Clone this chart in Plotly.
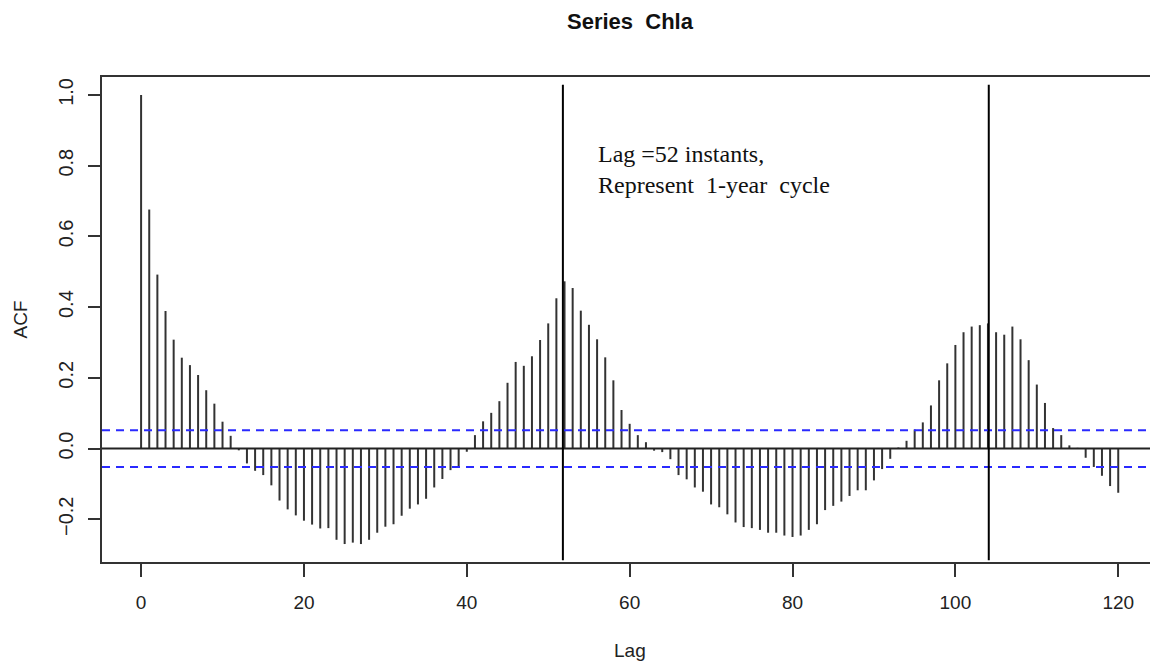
import plotly.graph_objects as go

# ---- data ----
lags = list(range(0, 121))
acf_values = [
    1.000, 0.676, 0.492, 0.389, 0.308, 0.257, 0.236, 0.208, 0.165, 0.127,
    0.076, 0.036, -0.005, -0.042, -0.063, -0.075, -0.104, -0.147, -0.172, -0.189,
    -0.204, -0.215, -0.226, -0.225, -0.258, -0.270, -0.266, -0.270, -0.258, -0.238,
    -0.221, -0.214, -0.190, -0.170, -0.158, -0.142, -0.110, -0.086, -0.061, -0.051,
    -0.009, 0.038, 0.077, 0.101, 0.134, 0.186, 0.245, 0.234, 0.261, 0.307,
    0.354, 0.425, 0.473, 0.454, 0.390, 0.350, 0.309, 0.258, 0.193, 0.109,
    0.070, 0.038, 0.018, -0.006, -0.010, -0.030, -0.075, -0.087, -0.110, -0.122,
    -0.158, -0.166, -0.186, -0.209, -0.222, -0.225, -0.230, -0.238, -0.238, -0.246,
    -0.250, -0.246, -0.230, -0.214, -0.174, -0.162, -0.150, -0.134, -0.118, -0.118,
    -0.090, -0.058, -0.029, 0.003, 0.022, 0.054, 0.074, 0.122, 0.193, 0.241,
    0.293, 0.329, 0.345, 0.349, 0.354, 0.329, 0.322, 0.345, 0.309, 0.250,
    0.181, 0.129, 0.058, 0.038, 0.009, 0.002, -0.026, -0.052, -0.077, -0.106,
    -0.125,
]
conf_limit = 0.052
cycle_lags = [51.8, 104.1]
x_ticks = [0, 20, 40, 60, 80, 100, 120]
y_ticks = [-0.2, 0.0, 0.2, 0.4, 0.6, 0.8, 1.0]
title_text = "Series\u00a0 Chla"
note_text = "Lag =52 instants,<br>Represent\u00a0 1-year\u00a0 cycle"

X_RANGE = [-4.8, 123.9]
Y_RANGE = [-0.3208, 1.0508]

# ---- build spikes ----
sx, sy = [], []
for l, v in zip(lags, acf_values):
    sx += [l, l, None]
    sy += [0, v, None]

fig = go.Figure()
fig.add_trace(go.Scatter(x=sx, y=sy, mode="lines",
                         line=dict(color="#333333", width=2),
                         hoverinfo="skip", showlegend=False))
# zero line
fig.add_trace(go.Scatter(x=X_RANGE, y=[0, 0], mode="lines",
                         line=dict(color="#222222", width=2),
                         hoverinfo="skip", showlegend=False))
# confidence bounds
for c in (conf_limit, -conf_limit):
    fig.add_trace(go.Scatter(x=X_RANGE, y=[c, c], mode="lines",
                             line=dict(color="#2a2aff", width=2, dash="8px,6px"),
                             hoverinfo="skip", showlegend=False))
# cycle markers
for cl in cycle_lags:
    fig.add_trace(go.Scatter(x=[cl, cl], y=[-0.316, 1.029], mode="lines",
                             line=dict(color="#000000", width=2),
                             hoverinfo="skip", showlegend=False))

fig.add_annotation(x=55.9, y=0.79, xref="x", yref="y", text=note_text,
                   showarrow=False, xanchor="left", yanchor="middle", align="left",
                   font=dict(family="Liberation Serif", size=24, color="#111111"))

fig.add_annotation(x=0, y=0.5, xref="paper", yref="paper", text="ACF",
                   showarrow=False, textangle=-90, xanchor="center", yanchor="middle",
                   xshift=-82, font=dict(family="Liberation Sans", size=19, color="#222222"))
fig.add_annotation(x=(630 - 102.4) / 1047.6, y=0, xref="paper", yref="paper", text="Lag",
                   showarrow=False, xanchor="center", yanchor="middle",
                   yshift=-88, font=dict(family="Liberation Sans", size=19, color="#222222"))

fig.update_layout(
    width=1150, height=661,
    margin=dict(l=102.4, r=0, t=77.2, b=99.1, pad=0),
    paper_bgcolor="white", plot_bgcolor="white",
    title=dict(text=title_text, x=630 / 1150, xanchor="center",
               y=1 - 21 / 661, yanchor="middle",
               font=dict(family="Liberation Sans", size=22, color="#111111", weight="bold")),
    font=dict(family="Liberation Sans", color="#222222"),
    xaxis=dict(range=X_RANGE, tickvals=x_ticks, ticks="outside", ticklen=13, tickwidth=2,
               tickcolor="#333333", showline=True, linecolor="#333333", linewidth=2,
               mirror=True, showgrid=False, zeroline=False,
               tickfont=dict(size=19, color="#222222"), ticklabelstandoff=9),
    yaxis=dict(range=Y_RANGE, tickvals=y_ticks, tickformat=".1f", ticks="outside",
               ticklen=12, tickwidth=2, tickcolor="#333333", showline=True,
               linecolor="#333333", linewidth=2, showgrid=False, zeroline=False,
               tickangle=-90, tickfont=dict(size=20, color="#222222"),
               ticklabelstandoff=7),
)

fig.write_html("out.html")
